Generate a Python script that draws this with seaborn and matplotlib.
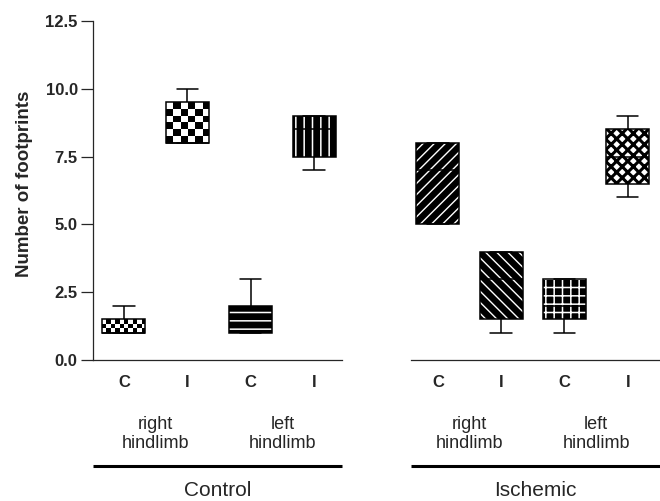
import numpy as np
import pandas as pd
import matplotlib.pyplot as plt
import matplotlib.ticker as mticker
import matplotlib.transforms as mtransforms
from matplotlib.patches import PathPatch
import seaborn as sns

# %% Data: five-number summaries (one entry per box)
groups = ["Control"] * 4 + ["Ischemic"] * 4
limbs = ["right", "right", "left", "left"] * 2
sides = ["C", "I", "C", "I"] * 2
mins = [1.0, 8.0, 1.0, 7.0, 5.0, 1.0, 1.0, 6.0]
q1s = [1.0, 8.0, 1.0, 7.5, 5.0, 1.5, 1.5, 6.5]
meds = [1.0, 8.0, 1.5, 8.5, 7.0, 3.0, 2.0, 7.5]
q3s = [1.5, 9.5, 2.0, 9.0, 8.0, 4.0, 3.0, 8.5]
maxs = [2.0, 10.0, 3.0, 9.0, 8.0, 4.0, 3.0, 9.0]
y_ticks = [0.0, 2.5, 5.0, 7.5, 10.0, 12.5]

# long table for seaborn: five values per box give exactly these quartiles
rows = []
for i in range(len(groups)):
    for v in (mins[i], q1s[i], meds[i], q3s[i], maxs[i]):
        rows.append({"group": groups[i], "key": f"{limbs[i]} {sides[i]}", "value": v})
df = pd.DataFrame(rows)

# fill style of each box, same order as above
styles = [
    dict(kind="checker", cols=10, rows=3),
    dict(kind="checker", cols=6, rows=6),
    dict(kind="hatch", hatch="--", face="black", ink="white", hlw=1.1),
    dict(kind="hatch", hatch="||", face="black", ink="white", hlw=1.1),
    dict(kind="hatch", hatch="///", face="black", ink="white", hlw=1.0),
    dict(kind="hatch", hatch="\\\\\\", face="black", ink="white", hlw=1.0),
    dict(kind="hatch", hatch="++", face="black", ink="white", hlw=1.1),
    dict(kind="hatch", hatch="xxx", face="white", ink="black", hlw=2.2),
]

# %% Style
sns.set_style("ticks")
plt.rcParams["font.family"] = ["Liberation Sans", "DejaVu Sans"]
plt.rcParams["hatch.linewidth"] = 1.1
plt.rcParams["axes.linewidth"] = 0.9

W, H = 660, 501
fig = plt.figure(figsize=(W / 100, H / 100), dpi=100)

panels = {"Control": (93, 249, (-0.487, 3.44)),
          "Ischemic": (411, 249, (-0.426, 3.51))}

for p, (group, (x0, w, xlim)) in enumerate(panels.items()):
    ax = fig.add_axes([x0 / W, 141 / H, w / W, 339 / H])
    sub = df[df["group"] == group]
    idx = [i for i, g in enumerate(groups) if g == group]
    order = [f"{limbs[i]} {sides[i]}" for i in idx]

    sns.boxplot(data=sub, x="key", y="value", order=order, color="black",
                linecolor="black", linewidth=1.1, width=0.68, whis=(0, 100),
                fliersize=0, ax=ax)

    box_patches = list(ax.patches)
    for patch, i in zip(box_patches, idx):
        st = styles[i]
        patch.set_linewidth(0)
        if st["kind"] == "checker":
            patch.set_facecolor("white")
            bb = patch.get_path().get_extents()
            tiles = np.indices((st["rows"], st["cols"])).sum(axis=0) % 2
            im = ax.imshow(tiles, cmap="gray_r", extent=(bb.x0, bb.x1, bb.y0, bb.y1),
                           aspect="auto", interpolation="nearest", zorder=2.05)
            im.set_clip_path(patch)
        else:
            patch.set_facecolor(st["face"])
            patch.set_edgecolor(st["ink"])
            patch.set_hatch(st["hatch"])
            if hasattr(patch, "set_hatch_linewidth"):
                patch.set_hatch_linewidth(st["hlw"])
        ax.add_patch(PathPatch(patch.get_path(), fill=False, edgecolor="black",
                               lw=1.1, zorder=2.1))
    for ln in ax.lines:
        ln.set_zorder(3)

    ax.set_xlim(*xlim)
    ax.set_ylim(0, 12.5)
    ax.set_xlabel("")
    ax.set_ylabel("")
    ax.set_xticks(range(len(order)))
    ax.set_xticklabels([sides[i] for i in idx], fontweight="bold", fontsize=12)
    ax.tick_params(axis="x", length=0, pad=11)
    sns.despine(ax=ax)

    if p == 0:
        ax.set_yticks(y_ticks)
        ax.yaxis.set_major_formatter(mticker.FormatStrFormatter("%.1f"))
        ax.tick_params(axis="y", length=9, width=0.9, pad=2, labelsize=12)
        for lbl in ax.get_yticklabels():
            lbl.set_fontweight("bold")
        ax.set_ylabel("Number of footprints", fontsize=13.5, fontweight="bold")
        ax.yaxis.set_label_coords(-0.24, 0.52)
    else:
        ax.spines["left"].set_visible(False)
        ax.tick_params(axis="y", left=False, labelleft=False)

    # limb labels under each C/I pair, group label under a rule
    trans = mtransforms.blended_transform_factory(ax.transData, ax.transAxes)
    for limb in ["right", "left"]:
        pos = [k for k, i in enumerate(idx) if limbs[i] == limb]
        ax.text(np.mean(pos), -0.218, f"{limb}\nhindlimb", transform=trans,
                ha="center", va="center", fontsize=13, linespacing=1.12)
    ax.plot([0, 1], [-0.313, -0.313], transform=ax.transAxes, clip_on=False,
            color="black", lw=2.2, solid_capstyle="butt")
    ax.text(0.5, -0.386, group, transform=ax.transAxes, ha="center", va="center",
            fontsize=15)

fig.savefig("out.png", dpi=100)
